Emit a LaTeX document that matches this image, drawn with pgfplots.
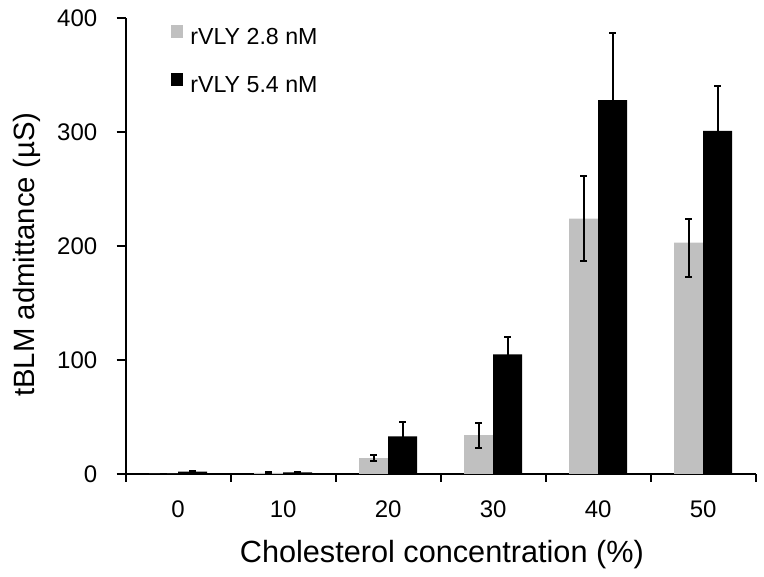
\documentclass[border=0pt]{standalone}
\usepackage{pgfplots}
\pgfplotsset{compat=1.18}
\usepackage{pgfplotstable}
\usepackage{fontspec}
\setmainfont{Liberation Sans}
\definecolor{lgrey}{RGB}{192,192,192}
\pgfplotstableread{
x y ep em
0 0 0 0
1 1 0.6 0.6
2 14 3 3
3 34 11 11
4 224 37 37
5 203 21 30
}\lowdata
\pgfplotstableread{
x y ep em
0 2 1 1
1 1.5 0.5 0.5
2 33 13 13
3 105 15 15
4 328 59 59
5 301 39 39
}\highdata
\begin{document}
\begin{tikzpicture}[x=0.75pt,y=0.75pt]
\useasboundingbox (-123,-103) rectangle (641,474);
\begin{axis}[
  at={(52.5,0)}, anchor=origin,
  scale only axis,
  width=472.5pt, height=342pt,
  ybar=0pt, bar width=21.75pt,
  xmin=-0.5, xmax=5.5, ymin=0, ymax=400,
  axis x line=bottom, axis y line=left,
  axis line style={-, line width=1.5pt},
  xtick={0,...,5}, xticklabels={0,10,20,30,40,50},
  minor xtick={-0.5,0.5,...,5.5},
  major x tick style={draw=none},
  minor x tick style={line width=1.5pt, black},
  minor tick length=6pt,
  ytick={0,100,200,300,400},
  y tick style={line width=1.5pt, black},
  major tick length=6.75pt,
  tick align=outside,
  every tick label/.append style={font=\fontsize{18}{21}\selectfont},
  /pgf/number format/assume math mode=true,
  xticklabel style={yshift=-9.5pt},
  yticklabel style={xshift=-11pt},
  xlabel={Cholesterol concentration (\%)},
  ylabel={tBLM admittance (µS)},
  xlabel style={font=\fontsize{23}{27}\selectfont, at={(axis description cs:0.502,-0.193)}, anchor=base},
  ylabel style={font=\fontsize{22}{26}\selectfont, at={(axis description cs:-0.127,0.481)}, anchor=south},
  legend style={draw=none, fill=none, at={(axis description cs:0.06,0.99)}, anchor=north west,
    font=\fontsize{17.4}{20}\selectfont, row sep=18pt},
  legend image code/.code={\path (0pt,0pt) (15pt,0pt); \fill[#1] (2.25pt,-0.75pt) rectangle (11.25pt,9pt);},
  error bars/y dir=both, error bars/y explicit,
  error bars/error bar style={line width=1.5pt, black},
  error bars/error mark options={rotate=90, mark size=2.6pt, line width=1.5pt, black},
]
\addplot[fill=lgrey, draw=none] table[x=x, y=y, y error plus=ep, y error minus=em] {\lowdata};
\addplot[fill=black, draw=none] table[x=x, y=y, y error plus=ep, y error minus=em] {\highdata};
\legend{rVLY 2.8 nM, rVLY 5.4 nM}
\end{axis}
\end{tikzpicture}
\end{document}
